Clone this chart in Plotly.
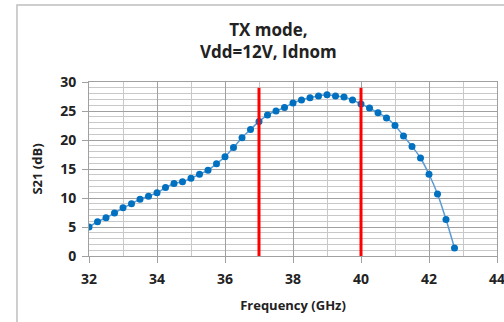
import plotly.graph_objects as go

freq = [32, 32.25, 32.5, 32.75, 33, 33.25, 33.5, 33.75, 34, 34.25, 34.5, 34.75,
        35, 35.25, 35.5, 35.75, 36, 36.25, 36.5, 36.75, 37, 37.25, 37.5, 37.75,
        38, 38.25, 38.5, 38.75, 39, 39.25, 39.5, 39.75, 40, 40.25, 40.5, 40.75,
        41, 41.25, 41.5, 41.75, 42, 42.25, 42.5, 42.75]
s21 = [5.0, 5.9, 6.6, 7.4, 8.3, 9.0, 9.8, 10.3, 10.9, 11.8, 12.5, 12.8,
       13.4, 14.1, 14.8, 15.9, 17.1, 18.7, 20.4, 21.8, 23.2, 24.3, 25.0, 25.6,
       26.4, 26.9, 27.3, 27.6, 27.8, 27.6, 27.4, 26.9, 26.2, 25.5, 24.7, 23.8,
       22.5, 20.7, 18.9, 16.9, 14.1, 10.7, 6.3, 1.4]
band_edges = [37, 40]
x_ticks = [32, 34, 36, 38, 40, 42, 44]
y_ticks = [0, 5, 10, 15, 20, 25, 30]

fig = go.Figure()
fig.add_trace(go.Scatter(
    x=freq, y=s21, mode="lines+markers",
    line=dict(color="#5B9BD5", width=1.5, shape="spline"),
    marker=dict(color="#0070C0", size=7),
    showlegend=False, cliponaxis=True,
))

for xe in band_edges:
    fig.add_shape(type="line", xref="x", yref="y", x0=xe, x1=xe, y0=-1.6, y1=29.0,
                  line=dict(color="#FF0000", width=3), layer="above")

# outer chart frame (cropped)
fig.add_shape(type="rect", xref="paper", yref="paper",
              x0=-0.1765, x1=1.2, y0=-0.6, y1=1.4425,
              line=dict(color="#BFBFBF", width=1.5), layer="below")

font_family = "Open Sans, Liberation Sans, sans-serif"
fig.add_annotation(text="<b>TX mode,<br>Vdd=12V, Idnom</b>", xref="paper", yref="paper",
                   x=(268 - 89) / 408, y=1 + (82 - 40.5) / 174, xanchor="center", yanchor="middle",
                   showarrow=False, font=dict(family=font_family, size=17, color="#222"))

fig.update_layout(
    width=504, height=322,
    margin=dict(l=89, r=7, t=82, b=66),
    paper_bgcolor="white", plot_bgcolor="white",
    font=dict(family=font_family, color="#222"),
)
fig.update_xaxes(
    range=[32, 44], tickvals=x_ticks, ticktext=[str(v) for v in x_ticks],
    tickfont=dict(size=14, family=font_family, weight="bold"),
    ticklabeloverflow="allow", automargin=False, ticklabelstandoff=4,
    showgrid=True, gridcolor="#A0A0A0", gridwidth=1,
    minor=dict(dtick=1, tick0=32, showgrid=True, gridcolor="#C8C8C8", gridwidth=1),
    ticks="outside", ticklen=6, tickcolor="#A0A0A0",
    showline=True, mirror=True, linecolor="#A0A0A0", zeroline=False,
    title=dict(text="<b>Frequency (GHz)</b>", font=dict(size=13, family=font_family), standoff=14),
)
fig.update_yaxes(
    range=[0, 30], tickvals=y_ticks, ticktext=[str(v) for v in y_ticks],
    tickfont=dict(size=14, family=font_family, weight="bold"),
    ticklabeloverflow="allow", automargin=False, ticklabelstandoff=3,
    showgrid=True, gridcolor="#A0A0A0", gridwidth=1,
    minor=dict(dtick=1, tick0=0, showgrid=True, gridcolor="#C8C8C8", gridwidth=1),
    ticks="outside", ticklen=6, tickcolor="#A0A0A0",
    showline=True, mirror=True, linecolor="#A0A0A0", zeroline=False,
    title=dict(text="<b>S21 (dB)</b>", font=dict(size=13, family=font_family), standoff=14),
)

fig.write_html("out.html")
